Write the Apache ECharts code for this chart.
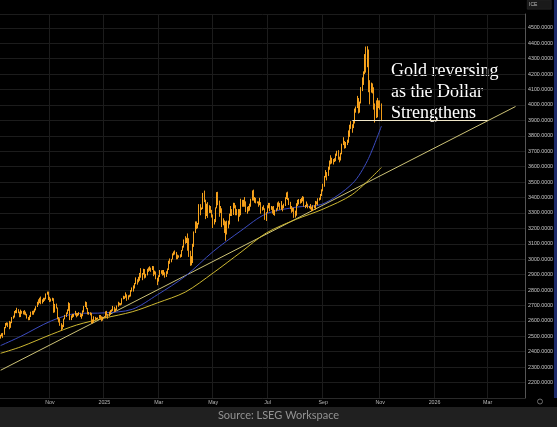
<!DOCTYPE html>
<html><head><meta charset="utf-8">
<script src="https://cdn.jsdelivr.net/npm/echarts@6/dist/echarts.min.js"></script>
<style>html,body{margin:0;padding:0;background:#000;}#c{width:557px;height:427px;}</style>
</head><body><div id="c"></div>
<script>
// ---- data ----
const startDate = '2024-09-09';   // first trading-day slot
const slotCount = 415;
// daily candles [open, close, low, high]
const candles = [
// Sep 2024
[2497,2506,2485,2510],[2506,2516,2500,2520],[2516,2512,2490,2522],[2512,2558,2510,2560],[2558,2578,2552,2586],
[2578,2582,2570,2590],[2582,2569,2560,2589],[2569,2559,2546,2600],[2559,2587,2555,2595],[2587,2622,2585,2625],
[2622,2628,2614,2634],[2628,2657,2622,2664],[2657,2657,2650,2670],[2657,2672,2650,2685],[2672,2658,2650,2676],
[2658,2634,2624,2660],
// Oct 2024
[2634,2663,2625,2673],[2663,2657,2646,2665],[2657,2656,2642,2665],[2656,2653,2640,2670],[2653,2644,2636,2660],
[2644,2622,2615,2646],[2622,2608,2604,2625],[2608,2630,2605,2636],[2630,2657,2625,2660],[2657,2648,2640,2665],
[2648,2662,2640,2667],[2662,2674,2655,2680],[2674,2692,2668,2695],[2692,2721,2690,2724],[2721,2720,2705,2740],
[2720,2748,2715,2750],[2748,2716,2708,2758],[2716,2736,2712,2740],[2736,2747,2722,2750],[2747,2743,2730,2750],
[2743,2774,2740,2778],[2774,2788,2770,2790],[2788,2744,2735,2790],
// Nov 2024
[2744,2736,2722,2756],[2736,2736,2725,2745],[2736,2743,2730,2750],[2743,2659,2652,2747],[2659,2706,2655,2710],
[2706,2685,2680,2712],[2685,2619,2610,2687],[2619,2598,2590,2625],[2598,2572,2568,2617],[2572,2566,2537,2585],
[2566,2563,2546,2575],[2563,2612,2560,2615],[2612,2631,2610,2639],[2631,2650,2625,2655],[2650,2670,2645,2675],
[2670,2715,2665,2721],[2715,2624,2605,2715],[2624,2632,2605,2636],[2632,2636,2620,2645],[2636,2640,2626,2645],
[2640,2650,2635,2665],
// Dec 2024
[2650,2640,2623,2652],[2640,2643,2630,2650],[2643,2650,2636,2657],[2650,2632,2625,2652],[2632,2633,2614,2645],
[2633,2660,2630,2668],[2660,2694,2656,2697],[2694,2718,2690,2726],[2718,2681,2676,2722],[2681,2648,2642,2684],
[2648,2652,2640,2658],[2652,2646,2636,2656],[2646,2586,2583,2652],[2586,2595,2583,2610],[2595,2622,2590,2630],
[2622,2612,2604,2626],[2612,2617,2608,2620],[2617,2617,2612,2622],[2617,2634,2615,2638],[2634,2621,2612,2638],
[2621,2606,2597,2630],[2606,2624,2602,2627],
// Jan 2025
[2624,2624,2620,2630],[2624,2658,2620,2662],[2658,2640,2636,2665],[2640,2636,2614,2645],[2636,2648,2630,2660],
[2648,2662,2640,2670],[2662,2670,2658,2675],[2670,2689,2665,2697],[2689,2663,2657,2692],[2663,2677,2660,2680],
[2677,2697,2670,2700],[2697,2715,2692,2724],[2715,2703,2700,2718],[2703,2708,2700,2715],[2708,2744,2705,2747],
[2744,2755,2740,2763],[2755,2754,2742,2760],[2754,2770,2750,2785],[2770,2741,2730,2772],[2741,2763,2738,2766],
[2763,2760,2753,2770],[2760,2794,2758,2800],[2794,2798,2790,2817],
// Feb 2025
[2798,2815,2790,2830],[2815,2842,2810,2846],[2842,2866,2838,2882],[2866,2856,2835,2870],[2856,2861,2850,2886],
[2861,2908,2860,2911],[2908,2898,2880,2942],[2898,2903,2864,2910],[2903,2928,2900,2938],[2928,2883,2875,2936],
[2883,2898,2880,2905],[2898,2935,2895,2938],[2935,2933,2918,2947],[2933,2939,2925,2954],[2939,2936,2918,2945],
[2936,2951,2930,2956],[2951,2914,2890,2955],[2914,2916,2900,2926],[2916,2875,2870,2920],[2875,2858,2832,2880],
// Mar 2025
[2858,2893,2855,2896],[2893,2918,2885,2930],[2918,2919,2905,2928],[2919,2910,2894,2930],[2910,2910,2896,2930],
[2910,2888,2880,2915],[2888,2917,2885,2922],[2917,2934,2905,2940],[2934,2988,2930,2990],[2988,2984,2970,3005],
[2984,3000,2980,3002],[3000,3034,2998,3038],[3034,3047,3025,3050],[3047,3044,3030,3057],[3044,3023,2999,3047],
[3023,3011,3000,3030],[3011,3020,3010,3025],[3020,3019,3010,3032],[3019,3057,3015,3060],[3057,3085,3055,3087],
[3085,3124,3075,3128],
// Apr 2025
[3124,3113,3100,3149],[3113,3134,3105,3139],[3134,3114,3055,3167],[3114,3037,3015,3136],[3037,2982,2957,3055],
[2982,2982,2960,3020],[2982,3082,2975,3100],[3082,3175,3080,3180],[3175,3237,3170,3245],[3237,3210,3195,3245],
[3210,3229,3200,3235],[3229,3342,3225,3357],[3342,3327,3285,3357],[3327,3327,3320,3335],[3327,3424,3325,3430],
[3424,3381,3370,3445],[3381,3288,3260,3386],[3288,3349,3280,3360],[3349,3318,3268,3370],[3318,3343,3300,3350],
[3343,3316,3300,3345],[3316,3288,3270,3320],
// May 2025
[3288,3239,3202,3290],[3239,3241,3225,3260],[3241,3333,3240,3336],[3333,3431,3330,3435],[3431,3366,3350,3437],
[3366,3306,3275,3380],[3306,3325,3300,3345],[3325,3236,3208,3330],[3236,3249,3220,3265],[3249,3178,3170,3252],
[3178,3240,3120,3245],[3240,3204,3160,3250],[3204,3230,3200,3250],[3230,3289,3225,3296],[3289,3314,3280,3345],
[3314,3294,3280,3325],[3294,3357,3287,3366],[3357,3342,3330,3365],[3342,3300,3285,3350],[3300,3288,3285,3325],
[3288,3318,3245,3325],[3318,3289,3275,3325],
// Jun 2025
[3289,3380,3285,3392],[3380,3353,3340,3385],[3353,3372,3340,3385],[3372,3352,3340,3403],[3352,3310,3305,3375],
[3310,3326,3295,3340],[3326,3322,3310,3345],[3322,3354,3315,3360],[3354,3386,3340,3392],[3386,3432,3380,3446],
[3432,3385,3380,3451],[3385,3388,3366,3403],[3388,3370,3362,3398],[3370,3369,3362,3375],[3369,3368,3340,3375],
[3368,3368,3350,3398],[3368,3323,3295,3370],[3323,3333,3315,3340],[3333,3328,3320,3350],[3328,3274,3255,3330],
[3274,3303,3248,3305],
// Jul 2025
[3303,3338,3300,3350],[3338,3357,3330,3365],[3357,3326,3311,3365],[3326,3337,3320,3345],[3337,3335,3296,3342],
[3335,3302,3287,3345],[3302,3313,3282,3320],[3313,3325,3310,3330],[3325,3355,3320,3368],[3355,3343,3340,3375],
[3343,3324,3320,3365],[3324,3347,3320,3377],[3347,3339,3310,3350],[3339,3349,3330,3360],[3349,3397,3345,3402],
[3397,3431,3390,3433],[3431,3387,3383,3438],[3387,3368,3351,3396],[3368,3337,3325,3372],[3337,3314,3301,3345],
[3314,3326,3308,3334],[3326,3275,3268,3334],[3275,3290,3270,3315],
// Aug 2025
[3290,3363,3282,3363],[3363,3373,3345,3385],[3373,3381,3355,3390],[3381,3368,3360,3390],[3368,3396,3365,3398],
[3396,3398,3375,3409],[3398,3342,3340,3405],[3342,3348,3331,3352],[3348,3356,3340,3374],[3356,3336,3330,3360],
[3336,3336,3330,3345],[3336,3332,3323,3358],[3332,3315,3311,3340],[3315,3348,3312,3350],[3348,3339,3330,3350],
[3339,3371,3321,3378],[3371,3365,3355,3375],[3365,3393,3351,3395],[3393,3396,3380,3399],[3396,3416,3385,3423],
[3416,3448,3410,3453],
// Sep 2025
[3448,3476,3440,3489],[3476,3533,3470,3540],[3533,3560,3530,3578],[3560,3545,3511,3565],[3545,3586,3540,3600],
[3586,3636,3580,3640],[3636,3626,3615,3674],[3626,3642,3620,3658],[3642,3634,3614,3650],[3634,3643,3630,3655],
[3643,3679,3635,3685],[3679,3690,3670,3703],[3690,3659,3645,3707],[3659,3643,3628,3665],[3643,3685,3640,3690],
[3685,3746,3680,3749],[3746,3764,3740,3791],[3764,3736,3717,3767],[3736,3750,3720,3760],[3750,3760,3740,3775],
[3760,3833,3755,3835],[3833,3858,3793,3872],
// Oct 2025
[3858,3866,3845,3895],[3866,3857,3820,3875],[3857,3886,3850,3896],[3886,3960,3880,3977],[3960,3985,3950,3990],
[3985,4040,3980,4059],[4040,3976,3945,4045],[3976,4017,3950,4022],[4017,4110,4010,4116],[4110,4142,4090,4179],
[4142,4208,4130,4218],[4208,4327,4200,4330],[4327,4251,4210,4379],[4251,4356,4245,4381],[4356,4125,4083,4360],
[4125,4095,4004,4161],[4095,4126,4080,4145],[4126,4112,4075,4140],[4112,3982,3970,4115],[3982,3952,3886,4010],
[3952,3930,3915,4030],[3930,4024,3920,4046],[4024,4002,3980,4030],
// Nov 2025
[4002,4000,3970,4030],[4000,3901.09,3895,4010]
];
// moving averages: [slot, value]
const ma50 = [[0,2440],[16,2500],[40,2600],[60,2648],[82,2652],[104,2675],[124,2770],[146,2890],[168,3050],[190,3185],
  [210,3295],[234,3338],[254,3356],[278,3490],[290,3640],[301,3863.05]];
const ma100 = [[0,2390],[16,2432],[40,2512],[60,2573],[82,2618],[104,2659],[124,2717],[146,2787],[168,2911],[190,3046],
  [210,3170],[234,3260],[254,3322],[278,3420],[301,3594.8187]];
const trend = [[0,2280],[407,3990]];
const lastPrice = 3901.09, lastMa50 = 3863.05, lastMa100 = 3594.8187;
const lastLine = [[278,3901.09],[385,3901.09]];
const tickLabels = ['Nov','2025','Mar','May','Jul','Sep','Nov','2026','Mar'];
const tickDates = ['2024-11-01','2025-01-01','2025-03-01','2025-05-01','2025-07-01','2025-09-01','2025-11-01','2026-01-01','2026-03-01'];
const annotation = ['Gold reversing','as the Dollar','Strengthens'];
const source = 'Source: LSEG Workspace';

// ---- categories (trading days) ----
const categories = [];
{ let d = new Date(startDate + 'T00:00:00Z');
  while (categories.length < slotCount) {
    const w = d.getUTCDay();
    if (w !== 0 && w !== 6) categories.push(d.toISOString().slice(0, 10));
    d.setUTCDate(d.getUTCDate() + 1);
  } }
const tickSlots = tickDates.map(t => categories.findIndex(c => c >= t));
const tickMap = {}; tickSlots.forEach((s, i) => tickMap[s] = tickLabels[i]);
const isTick = (idx) => tickMap[idx] !== undefined;

const sans = 'Liberation Sans';
function boxLabel(val, bg, fg) {
  return { show: true, position: 'end', distance: 1, formatter: val.toFixed(4), backgroundColor: bg,
    color: fg, fontSize: 5.3, fontFamily: sans, padding: [1.5, 2, 1, 2] };
}

const chart = echarts.init(document.getElementById('c'), null, { renderer: 'canvas' });
chart.setOption({
  backgroundColor: '#000',
  animation: false,
  grid: { left: 0, right: 32, top: 14, bottom: 29 },
  xAxis: {
    type: 'category', data: categories, boundaryGap: true,
    axisLine: { show: true, lineStyle: { color: '#2a2a2a' } },
    axisTick: { show: false },
    axisLabel: { interval: (i) => isTick(i), formatter: (v, i) => tickMap[i] || '', color: '#b8b8b8',
      fontSize: 5.3, fontFamily: sans, margin: 2 },
    splitLine: { show: true, interval: (i) => isTick(i), lineStyle: { color: '#1c1c1c', width: 1 } }
  },
  yAxis: {
    type: 'value', position: 'right', min: 2100, max: 4590, interval: 100,
    axisLine: { show: true, lineStyle: { color: '#555' } },
    axisTick: { show: false },
    axisLabel: { formatter: (v) => v.toFixed(4), color: '#c8c8c8', fontSize: 5.3, fontFamily: sans, margin: 3,
      showMinLabel: false, showMaxLabel: false },
    splitLine: { show: true, lineStyle: { color: '#1c1c1c', width: 1 } }
  },
  series: [
    { name: 'trend', type: 'line', data: trend, symbol: 'none', lineStyle: { color: '#e4d985', width: 0.9 }, z: 2 },
    { name: 'MA100', type: 'line', data: ma100, symbol: 'none', smooth: 0.3, lineStyle: { color: '#cdb832', width: 1 }, z: 3,
      markLine: { silent: true, symbol: 'none', data: [{ yAxis: lastMa100, lineStyle: { opacity: 0 }, label: boxLabel(lastMa100, '#f2d21c', '#111') }] } },
    { name: 'MA50', type: 'line', data: ma50, symbol: 'none', smooth: 0.3, lineStyle: { color: '#3c4cc0', width: 1 }, z: 3,
      markLine: { silent: true, symbol: 'none', data: [{ yAxis: lastMa50, lineStyle: { opacity: 0 }, label: boxLabel(lastMa50, '#4a62d6', '#fff') }] } },
    { name: 'Gold', type: 'candlestick', data: candles, barWidth: 0.8, z: 5,
      itemStyle: { color: '#f7a41e', color0: '#ee9a18', borderColor: '#f7a41e', borderColor0: '#ee9a18', borderWidth: 1 },
      markLine: { silent: true, symbol: 'none', z: 6, data: [
        { yAxis: lastPrice, lineStyle: { opacity: 0 }, label: boxLabel(lastPrice, '#f39c1e', '#111') },
        [ { coord: [categories[lastLine[0][0]], lastLine[0][1]], lineStyle: { color: '#efe6c8', width: 1, type: 'solid' }, label: { show: false } },
          { coord: [categories[lastLine[1][0]], lastLine[1][1]] } ]
      ] } }
  ],
  graphic: [
    { type: 'rect', left: 0, top: 407, shape: { width: 557, height: 20 }, style: { fill: '#202020' }, silent: true },
    { type: 'text', left: 'center', top: 410, style: { text: source, fill: '#929292', font: '11px Lato' } },
    { type: 'text', left: 391, top: 61, style: { text: annotation.join('\n'), fill: '#ffffff',
      font: '18px "Liberation Serif"', lineHeight: 21 } },
    { type: 'rect', left: 527, top: 0, shape: { width: 24, height: 9 }, style: { fill: '#1a1a1a', stroke: '#333', lineWidth: 0.5 } },
    { type: 'text', left: 529, top: 2, style: { text: 'ICE', fill: '#bbb', font: '5px "Liberation Sans"' } },
    { type: 'rect', left: 554, top: 0, shape: { width: 3, height: 398 }, style: { fill: '#1c2a6a' } },
    { type: 'circle', shape: { cx: 540, cy: 401.5, r: 2.5 }, style: { fill: 'none', stroke: '#888', lineWidth: 0.8 } }
  ]
});
</script></body></html>
